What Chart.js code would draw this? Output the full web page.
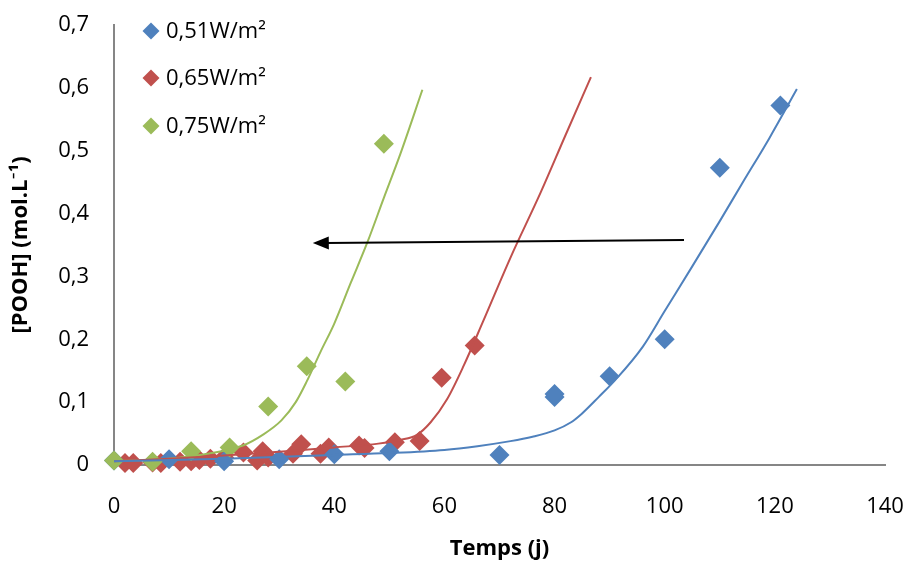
<!DOCTYPE html>
<html>
<head>
<meta charset="utf-8">
<script src="https://cdn.jsdelivr.net/npm/chart.js@4/dist/chart.umd.min.js"></script>
<style>
html,body{margin:0;padding:0;background:#fff;}
#wrap{width:913px;height:564px;}
</style>
</head>
<body>
<div id="wrap"><canvas id="c" width="913" height="564"></canvas></div>
<script>
// ---- data ----
const seriesNames = ['0,51W/m²', '0,65W/m²', '0,75W/m²'];
const xTicks = [0, 20, 40, 60, 80, 100, 120, 140];
const yTicks = [0, 0.1, 0.2, 0.3, 0.4, 0.5, 0.6, 0.7];

// 0,51 W/m² measured points
const blueX = [0, 10, 20, 30, 40, 50, 70, 80, 80, 90, 100, 110, 121];
const blueY = [0.007, 0.009, 0.006, 0.009, 0.017, 0.022, 0.016, 0.108, 0.113, 0.141, 0.2, 0.473, 0.572];
// 0,65 W/m² measured points
const redX = [2, 3.5, 7, 8.5, 12, 14, 15.5, 17.5, 20, 23.5, 26, 27, 28, 32.5, 34, 37.5, 39, 44.5, 45.5, 51, 55.5, 59.5, 65.5];
const redY = [0.003, 0.003, 0.004, 0.003, 0.005, 0.006, 0.008, 0.01, 0.012, 0.02, 0.007, 0.022, 0.012, 0.018, 0.033, 0.018, 0.028, 0.031, 0.027, 0.036, 0.038, 0.139, 0.19];
// 0,75 W/m² measured points
const greenX = [0, 7, 14, 21, 28, 35, 42, 49];
const greenY = [0.007, 0.005, 0.022, 0.028, 0.093, 0.157, 0.133, 0.511];

// fitted curves
const blueFitX = [0, 20, 40, 50, 60, 66, 72, 76, 80, 83, 85, 88, 91, 96, 100, 105, 110, 114, 119, 124];
const blueFitY = [0.006, 0.01, 0.016, 0.019, 0.024, 0.03, 0.038, 0.045, 0.055, 0.068, 0.082, 0.108, 0.135, 0.188, 0.245, 0.316, 0.388, 0.447, 0.52, 0.598];
const redFitX = [0, 10, 20, 30, 40, 48, 52, 55, 57.5, 60.5, 63.5, 67, 72, 77.5, 82, 86.6];
const redFitY = [0.006, 0.01, 0.015, 0.021, 0.028, 0.034, 0.04, 0.048, 0.068, 0.105, 0.158, 0.228, 0.33, 0.434, 0.525, 0.617];
const greenFitX = [0, 10, 17, 23.4, 27, 30.4, 33, 35, 37.5, 40, 43, 46, 49, 52, 56];
const greenFitY = [0.006, 0.01, 0.018, 0.031, 0.048, 0.071, 0.1, 0.133, 0.18, 0.225, 0.29, 0.354, 0.425, 0.495, 0.597];

// arrow (data coordinates): from, to
const arrowFrom = [103.5, 0.358];
const arrowTo = [36.1, 0.353];

// ---- build ----
const BLUE = '#4F81BD', RED = '#C0504D', GREEN = '#9BBB59';
const pts = (xs, ys) => xs.map((x, i) => ({x: x, y: ys[i]}));
const FONT = "'Open Sans', Lato, sans-serif";

function pointSet(label, xs, ys, color, order) {
  return {label, data: pts(xs, ys), showLine: false, pointStyle: 'rectRot',
    pointRadius: 10, pointHoverRadius: 10, backgroundColor: color, borderColor: color,
    borderWidth: 0, order, clip: false};
}
function fitSet(xs, ys, color) {
  return {label: '', data: pts(xs, ys), showLine: true, pointRadius: 0, pointHoverRadius: 0,
    borderColor: color, borderWidth: 2, backgroundColor: color, fill: false,
    cubicInterpolationMode: 'monotone', order: 0, clip: false};
}

const legendPlugin = {
  id: 'customLegend',
  afterDraw(chart) {
    const ctx = chart.ctx;
    const colors = [BLUE, RED, GREEN];
    const rows = [31, 78, 126];
    ctx.save();
    ctx.font = '22px ' + FONT;
    ctx.textBaseline = 'middle';
    ctx.textAlign = 'left';
    seriesNames.forEach((name, i) => {
      const cx = 151, cy = rows[i], r = 8.5;
      ctx.fillStyle = colors[i];
      ctx.beginPath();
      ctx.moveTo(cx, cy - r); ctx.lineTo(cx + r, cy); ctx.lineTo(cx, cy + r); ctx.lineTo(cx - r, cy);
      ctx.closePath(); ctx.fill();
      ctx.fillStyle = '#000';
      ctx.fillText(name, 166, cy + 1);
    });
    ctx.restore();
  }
};

const arrowPlugin = {
  id: 'arrow',
  afterDatasetsDraw(chart) {
    const xs = chart.scales.x, ys = chart.scales.y, ctx = chart.ctx;
    const x1 = xs.getPixelForValue(arrowFrom[0]), y1 = ys.getPixelForValue(arrowFrom[1]);
    const x2 = xs.getPixelForValue(arrowTo[0]), y2 = ys.getPixelForValue(arrowTo[1]);
    const ang = Math.atan2(y2 - y1, x2 - x1);
    const hl = 16, hw = 6.5;
    ctx.save();
    ctx.strokeStyle = '#000'; ctx.fillStyle = '#000'; ctx.lineWidth = 2;
    ctx.beginPath();
    ctx.moveTo(x1, y1);
    ctx.lineTo(x2 - Math.cos(ang) * hl * 0.8, y2 - Math.sin(ang) * hl * 0.8);
    ctx.stroke();
    ctx.beginPath();
    ctx.moveTo(x2, y2);
    ctx.lineTo(x2 - Math.cos(ang) * hl - Math.sin(ang) * hw, y2 - Math.sin(ang) * hl + Math.cos(ang) * hw);
    ctx.lineTo(x2 - Math.cos(ang) * hl + Math.sin(ang) * hw, y2 - Math.sin(ang) * hl - Math.cos(ang) * hw);
    ctx.closePath(); ctx.fill();
    ctx.restore();
  }
};

new Chart(document.getElementById('c'), {
  type: 'scatter',
  data: {
    datasets: [
      fitSet(blueFitX, blueFitY, BLUE),
      fitSet(redFitX, redFitY, RED),
      fitSet(greenFitX, greenFitY, GREEN),
      pointSet(seriesNames[2], greenX, greenY, GREEN, 1),
      pointSet(seriesNames[0], blueX, blueY, BLUE, 2),
      pointSet(seriesNames[1], redX, redY, RED, 3)
    ]
  },
  options: {
    responsive: false,
    animation: false,
    devicePixelRatio: 1,
    layout: {padding: {top: 25, right: 28, left: 0, bottom: 0}},
    plugins: {legend: {display: false}, tooltip: {enabled: false}},
    scales: {
      x: {
        type: 'linear', min: 0, max: 140,
        afterBuildTicks(s) { s.ticks = xTicks.map(v => ({value: v})); },
        afterFit(s) { s.height = 99; s.paddingLeft = 0; s.paddingRight = 0; },
        grid: {display: false, drawTicks: false},
        border: {display: true, color: '#868686', width: 2},
        ticks: {padding: 29, color: '#000', font: {family: FONT, size: 22}, maxRotation: 0},
        title: {display: true, text: 'Temps (j)', color: '#000', padding: {top: 0, bottom: 2},
          font: {family: FONT, size: 22, weight: 'bold'}}
      },
      y: {
        type: 'linear', min: 0, max: 0.7,
        afterBuildTicks(s) { s.ticks = yTicks.map(v => ({value: v})); },
        afterFit(s) { s.width = 114; s.paddingTop = 0; s.paddingBottom = 0; },
        grid: {display: false, drawTicks: false},
        border: {display: true, color: '#868686', width: 2},
        ticks: {padding: 25, color: '#000', font: {family: FONT, size: 22},
          callback: v => String(Math.round(v * 10) / 10).replace('.', ',')},
        title: {display: true, text: '[POOH] (mol.L⁻¹)', color: '#000', padding: {top: 8, bottom: 0},
          font: {family: FONT, size: 22, weight: 'bold'}}
      }
    }
  },
  plugins: [arrowPlugin, legendPlugin]
});
</script>
</body>
</html>
